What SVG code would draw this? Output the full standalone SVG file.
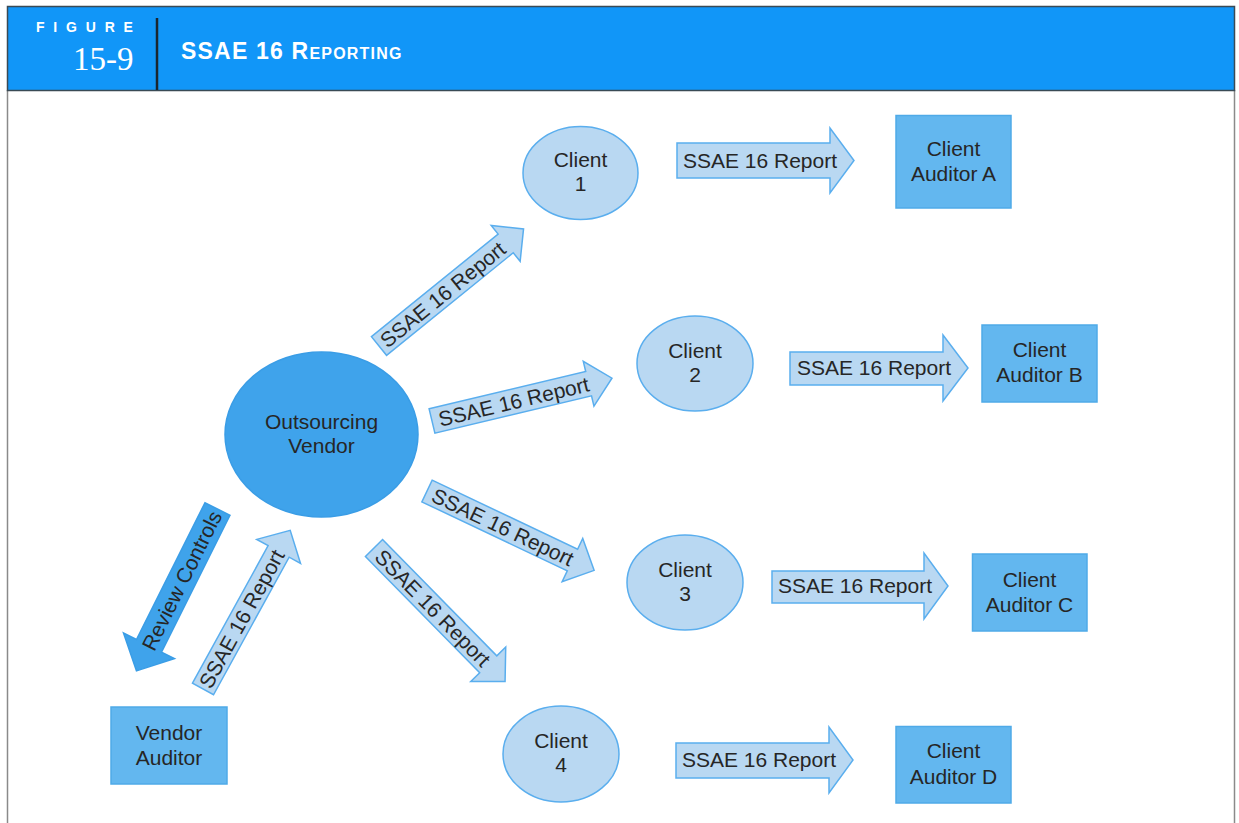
<svg xmlns="http://www.w3.org/2000/svg" width="1239" height="823" viewBox="0 0 1239 823">
<style>
text{font-family:"Liberation Sans",Arial,sans-serif;fill:#262626;font-size:21px}
.lbl{text-anchor:middle}
.arrL{fill:#B9D8F2;stroke:#5AAEEE;stroke-width:1.5}
.arrD{fill:#3FA3EB;stroke:#3A9DE6;stroke-width:1.5}
.cli{fill:#B9D8F2;stroke:#5AAEEE;stroke-width:1.5}
.ven{fill:#3FA3EB;stroke:#3A9DE6;stroke-width:1.5}
.aud{fill:#63B7EF;stroke:#4FAAE8;stroke-width:1.5}
</style>
<rect width="1239" height="823" fill="#ffffff"/>
<g id="frame">
<line x1="7.5" y1="90" x2="7.5" y2="823" stroke="#8a8a8a" stroke-width="1.5"/>
<line x1="1234.5" y1="90" x2="1234.5" y2="823" stroke="#8a8a8a" stroke-width="1.5"/>
<rect x="7.5" y="6.5" width="1227" height="84" fill="#1196F8" stroke="#3a4a55" stroke-width="1.5"/>
<line x1="157" y1="18" x2="157" y2="90" stroke="#1a2630" stroke-width="2.5"/>
<text x="36" y="32" style="font-size:14px;font-weight:bold;fill:#ffffff;letter-spacing:8.8px">FIGURE</text>
<text x="73" y="70" style="font-family:'Liberation Serif','Times New Roman',serif;font-size:33px;fill:#ffffff">15-9</text>
<text x="181" y="59" style="font-weight:bold;fill:#ffffff;font-size:23px;letter-spacing:1.2px">SSAE 16 R<tspan style="font-size:16px">EPORTING</tspan></text>
</g>
<g id="connectors">
<g id="arr-v-c1" transform="translate(379,346) rotate(-39)">
<path class="arrL" d="M0,-12 H163 V-23 L186,0 L163,23 V12 H0 Z"/>
<text class="lbl" x="82" y="7.5">SSAE 16 Report</text>
</g>
<g id="arr-v-c2" transform="translate(432,421) rotate(-13.4)">
<path class="arrL" d="M0,-12.5 H161 V-23 L185,0 L161,23 V12.5 H0 Z"/>
<text class="lbl" x="84" y="7.5">SSAE 16 Report</text>
</g>
<g id="arr-v-c3" transform="translate(427,491) rotate(25.4)">
<path class="arrL" d="M0,-12 H161 V-24 L185,0 L161,24 V12 H0 Z"/>
<text class="lbl" x="84" y="7.5">SSAE 16 Report</text>
</g>
<g id="arr-v-c4" transform="translate(374,548) rotate(45.5)">
<path class="arrL" d="M0,-12 H163 V-24.5 L187,0 L163,24.5 V12 H0 Z"/>
<text class="lbl" x="84" y="7.5">SSAE 16 Report</text>
</g>
<g id="arr-va-v" transform="translate(203,689) rotate(-61.2)">
<path class="arrL" d="M0,-12 H157 V-25 L181,0 L157,25 V12 H0 Z"/>
<text class="lbl" x="80" y="7.5">SSAE 16 Report</text>
</g>
<g id="arr-review" transform="translate(217.5,509) rotate(116.6)">
<path class="arrD" d="M0,-14 H153 V-28.5 L181,0 L153,28.5 V14 H0 Z"/>
<text class="lbl" transform="translate(80,0) rotate(180)" x="0" y="7.5">Review Controls</text>
</g>
<g id="arr-c1-a">
<path class="arrL" d="M677,143 H830 V128 L854,160.5 L830,193 V178 H677 Z"/>
<text class="lbl" x="760" y="168">SSAE 16 Report</text>
</g>
<g id="arr-c2-b">
<path class="arrL" d="M790,352 H943 V335 L968,368 L943,401 V385 H790 Z"/>
<text class="lbl" x="874" y="375">SSAE 16 Report</text>
</g>
<g id="arr-c3-c">
<path class="arrL" d="M772,571 H924 V553 L948,586 L924,619 V603 H772 Z"/>
<text class="lbl" x="855" y="593">SSAE 16 Report</text>
</g>
<g id="arr-c4-d">
<path class="arrL" d="M676,743 H829 V727 L853,760 L829,793 V778 H676 Z"/>
<text class="lbl" x="759" y="767">SSAE 16 Report</text>
</g>
</g>
<g id="vendor">
<ellipse class="ven" cx="321.5" cy="434.5" rx="96.5" ry="82.5"/>
<text class="lbl" x="321.5" y="429">Outsourcing</text>
<text class="lbl" x="321.5" y="453">Vendor</text>
</g>
<g id="client1">
<ellipse class="cli" cx="580.5" cy="173" rx="57.5" ry="46.5"/>
<text class="lbl" x="580.5" y="167">Client</text>
<text class="lbl" x="580.5" y="191">1</text>
</g>
<g id="client2">
<ellipse class="cli" cx="695" cy="363.5" rx="58" ry="47.5"/>
<text class="lbl" x="695" y="357.5">Client</text>
<text class="lbl" x="695" y="381.5">2</text>
</g>
<g id="client3">
<ellipse class="cli" cx="685" cy="582.5" rx="58" ry="47.5"/>
<text class="lbl" x="685" y="576.5">Client</text>
<text class="lbl" x="685" y="600.5">3</text>
</g>
<g id="client4">
<ellipse class="cli" cx="561" cy="754" rx="58" ry="48"/>
<text class="lbl" x="561" y="748">Client</text>
<text class="lbl" x="561" y="772">4</text>
</g>
<g id="auditorA">
<rect class="aud" x="896" y="115.5" width="115" height="92.5"/>
<text class="lbl" x="953.5" y="156">Client</text>
<text class="lbl" x="953.5" y="181">Auditor A</text>
</g>
<g id="auditorB">
<rect class="aud" x="982" y="325" width="115" height="77"/>
<text class="lbl" x="1039.5" y="357">Client</text>
<text class="lbl" x="1039.5" y="382">Auditor B</text>
</g>
<g id="auditorC">
<rect class="aud" x="972.5" y="554" width="114.5" height="77"/>
<text class="lbl" x="1029.5" y="587">Client</text>
<text class="lbl" x="1029.5" y="612">Auditor C</text>
</g>
<g id="auditorD">
<rect class="aud" x="896" y="726.5" width="115" height="76.5"/>
<text class="lbl" x="953.5" y="758">Client</text>
<text class="lbl" x="953.5" y="784">Auditor D</text>
</g>
<g id="vendorAuditor">
<rect class="aud" x="111" y="707" width="116" height="77"/>
<text class="lbl" x="169" y="740">Vendor</text>
<text class="lbl" x="169" y="765">Auditor</text>
</g>
</svg>
